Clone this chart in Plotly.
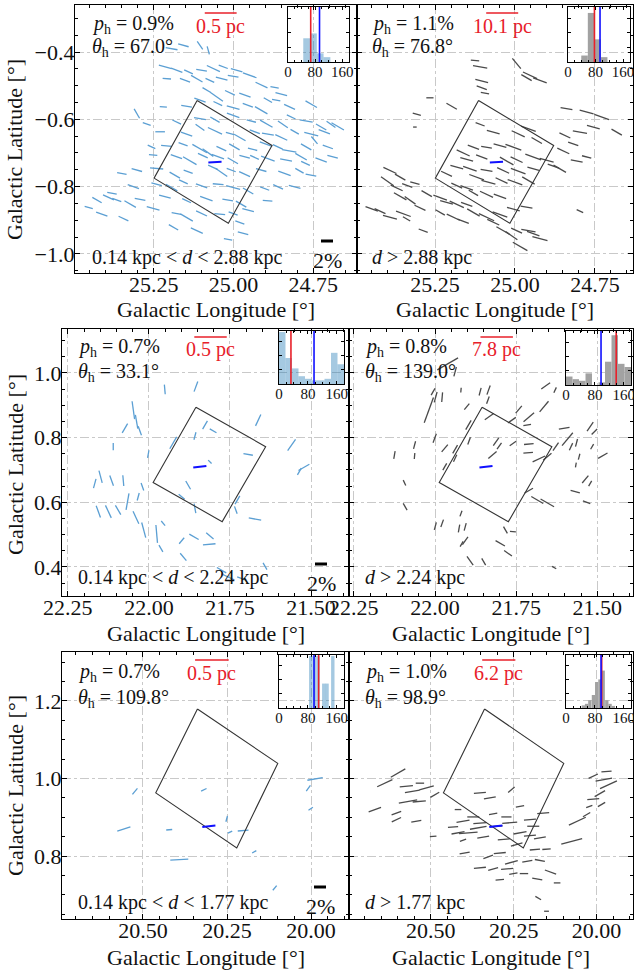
import numpy as np
import plotly.graph_objects as go

# ---------------- data ----------------
p_h = [0.9, 1.1, 0.7, 0.8, 0.7, 1.0]
theta_h = [67.0, 76.8, 33.1, 139.0, 109.8, 98.9]
blue_theta = [93, 93, 97, 97, 97, 97]
blue_p = [2.2, 2.2, 2.2, 2.2, 2.2, 2.2]
blue_l = [25.058, 25.058, 21.843, 21.843, 20.304, 20.304]
blue_b = [-0.727, -0.727, 0.710, 0.710, 0.877, 0.877]
dist_labels = ["0.14 kpc &lt; <i>d</i> &lt; 2.88 kpc", "<i>d</i> &gt; 2.88 kpc",
               "0.14 kpc &lt; <i>d</i> &lt; 2.24 kpc", "<i>d</i> &gt; 2.24 kpc",
               "0.14 kpc &lt; <i>d</i> &lt; 1.77 kpc", "<i>d</i> &gt; 1.77 kpc"]
scale_labels = ["0.5 pc", "10.1 pc", "0.5 pc", "7.8 pc", "0.5 pc", "6.2 pc"]
scale_l0 = [25.09, 25.09, 21.86, 21.86, 20.345, 20.345]
scale_l1 = [24.99, 24.99, 21.76, 21.76, 20.245, 20.245]

box_l = [[25.114, 24.879, 25.016, 25.249], [25.114, 24.879, 25.016, 25.249],
         [21.855, 21.640, 21.774, 21.987], [21.855, 21.640, 21.774, 21.987],
         [20.338, 20.099, 20.221, 20.462], [20.338, 20.099, 20.221, 20.462]]
box_b = [[-0.544, -0.678, -0.909, -0.775], [-0.544, -0.678, -0.909, -0.775],
         [0.894, 0.772, 0.540, 0.661], [0.894, 0.772, 0.540, 0.661],
         [1.179, 1.039, 0.821, 0.963], [1.179, 1.039, 0.821, 0.963]]

# panel 1 (near stars)
p1_l = [25.194, 25.157, 25.105, 25.079, 25.214, 25.178, 25.141, 25.100, 25.063, 25.032,
        24.990, 25.209, 25.152, 25.115, 25.074, 25.037, 25.001, 24.949, 25.084, 25.053,
        25.011, 24.964, 24.912, 24.871, 24.850, 24.892, 25.220, 25.147, 25.105, 25.049,
        25.001, 24.955, 24.913, 24.866, 24.824, 24.756, 25.303, 25.272, 25.178, 25.105,
        25.058, 25.001, 24.944, 24.897, 24.845, 24.819, 24.772, 24.725, 24.694, 24.673,
        25.230, 25.147, 25.105, 25.058, 25.011, 24.980, 24.933, 24.892, 24.850, 24.808,
        24.756, 24.715, 25.257, 25.210, 25.158, 25.106, 25.080, 25.038, 24.997, 24.940,
        24.898, 24.861, 24.825, 24.772, 24.746, 24.704, 25.252, 25.179, 25.137, 25.096,
        25.049, 25.002, 24.965, 24.934, 24.892, 24.835, 24.788, 24.774, 24.725, 24.689,
        25.350, 25.303, 25.241, 25.184, 25.142, 25.064, 25.038, 25.007, 24.965, 24.913,
        24.840, 24.793, 24.757, 25.381, 25.314, 25.241, 25.194, 25.157, 25.100, 25.048,
        25.001, 24.954, 24.902, 24.860, 24.808, 25.454, 25.428, 25.392, 25.366, 25.324,
        25.293, 25.215, 25.147, 25.085, 25.018, 24.976, 24.893, 25.413, 25.345, 25.252,
        25.179, 25.147, 25.100, 25.043, 25.001, 24.954, 25.188, 25.115, 24.980, 24.970,
        25.017]
p1_b = [-0.390, -0.380, -0.380, -0.395, -0.444, -0.454, -0.459, -0.454, -0.449, -0.444,
        -0.454, -0.479, -0.484, -0.479, -0.484, -0.479, -0.472, -0.469, -0.513, -0.533,
        -0.521, -0.528, -0.498, -0.505, -0.525, -0.543, -0.563, -0.561, -0.543, -0.553,
        -0.565, -0.558, -0.573, -0.543, -0.563, -0.555, -0.583, -0.614, -0.608, -0.598,
        -0.601, -0.588, -0.605, -0.613, -0.615, -0.593, -0.605, -0.623, -0.615, -0.621,
        -0.637, -0.644, -0.624, -0.634, -0.642, -0.654, -0.637, -0.644, -0.654, -0.637,
        -0.644, -0.637, -0.682, -0.679, -0.674, -0.687, -0.699, -0.687, -0.682, -0.689,
        -0.674, -0.682, -0.694, -0.682, -0.662, -0.682, -0.706, -0.711, -0.723, -0.708,
        -0.711, -0.723, -0.711, -0.713, -0.717, -0.721, -0.711, -0.731, -0.721, -0.711,
        -0.761, -0.751, -0.746, -0.766, -0.756, -0.743, -0.758, -0.751, -0.763, -0.751,
        -0.761, -0.753, -0.766, -0.820, -0.800, -0.793, -0.803, -0.786, -0.798, -0.793,
        -0.803, -0.813, -0.806, -0.801, -0.801, -0.862, -0.840, -0.832, -0.840, -0.852,
        -0.838, -0.830, -0.842, -0.836, -0.840, -0.852, -0.842, -0.882, -0.895, -0.865,
        -0.880, -0.892, -0.880, -0.882, -0.880, -0.870, -0.921, -0.931, -0.907, -0.939,
        -0.957]
p1_th = [80, 75, 35, 15, 75, 70, 65, 80, 65, 70,
         75, 85, 70, 60, 65, 75, 80, 70, 60, 55,
         65, 70, 65, 80, 75, 60, 85, 80, 70, 65,
         75, 70, 60, 80, 65, 60, 30, 70, 65, 80,
         60, 70, 75, 60, 55, 65, 80, 60, 55, 60,
         90, 70, 55, 65, 75, 60, 70, 80, 65, 60,
         75, 70, 65, 85, 70, 60, 55, 65, 60, 75,
         70, 65, 80, 60, 40, 70, 85, 70, 60, 65,
         70, 60, 75, 65, 70, 80, 60, 65, 70, 75,
         80, 75, 85, 60, 70, 65, 55, 70, 65, 75,
         70, 60, 80, 80, 70, 75, 60, 65, 70, 85,
         75, 60, 70, 65, 75, 75, 60, 65, 70, 60,
         80, 75, 65, 70, 80, 60, 85, 70, 65, 75,
         80, 60, 65, 85, 70, 75, 60, 65, 70, 75,
         80]
p1_p = [2.0, 1.8, 1.6, 1.4, 2.2, 2.0, 1.6, 1.8, 2.4, 1.6,
        2.0, 1.4, 1.8, 2.2, 1.6, 2.0, 1.8, 2.4, 1.6, 2.6,
        1.8, 2.0, 2.2, 1.4, 2.0, 1.6, 1.2, 1.8, 2.0, 1.6,
        2.2, 1.8, 2.4, 1.4, 2.0, 2.2, 1.8, 1.4, 1.6, 2.0,
        1.8, 2.2, 1.6, 2.4, 2.0, 1.6, 2.2, 2.0, 1.8, 2.4,
        1.6, 2.0, 1.8, 2.6, 1.4, 2.2, 1.8, 2.0, 2.2, 1.6,
        2.4, 2.0, 1.4, 1.8, 1.6, 2.8, 2.2, 1.8, 2.0, 1.6,
        2.2, 1.8, 2.4, 2.0, 1.6, 1.8, 1.4, 2.0, 2.6, 1.8,
        2.2, 2.0, 1.8, 1.6, 2.4, 2.0, 2.2, 1.6, 2.0, 1.8,
        1.6, 1.8, 2.2, 2.0, 1.6, 1.8, 2.4, 1.6, 2.0, 1.8,
        2.2, 1.6, 1.8, 1.6, 2.0, 1.8, 2.2, 1.6, 2.0, 1.8,
        2.4, 2.0, 1.6, 1.8, 2.0, 1.4, 1.8, 2.0, 1.6, 2.2,
        1.8, 2.0, 1.6, 2.2, 1.8, 2.0, 1.6, 2.0, 1.8, 2.2,
        1.6, 2.4, 2.0, 1.8, 1.6, 2.0, 1.8, 2.2, 1.6, 1.8,
        1.4]

# panel 2 (far stars)
p2_l = [25.109, 25.125, 24.995, 24.953, 24.922, 24.964, 25.104, 25.104, 25.094, 25.266,
        25.198, 25.307, 25.313, 24.839, 24.776, 24.729, 24.682, 24.755, 24.797, 24.844,
        24.818, 24.776, 24.807, 24.797, 25.109, 25.068, 24.990, 24.958, 24.932, 25.005,
        25.047, 25.089, 25.130, 25.162, 25.151, 25.104, 25.026, 24.995, 24.943, 24.901,
        24.880, 24.849, 24.860, 24.943, 24.990, 25.037, 25.089, 25.141, 25.182, 25.214,
        25.120, 25.083, 25.042, 25.000, 24.958, 25.182, 25.151, 25.130, 25.089, 25.047,
        25.391, 25.359, 25.399, 25.370, 25.337, 25.313, 25.359, 25.328, 25.297, 25.349,
        25.391, 25.448, 25.422, 25.276, 25.234, 25.214, 25.182, 25.151, 25.130, 25.089,
        25.047, 25.005, 24.964, 25.234, 25.193, 25.162, 25.068, 25.037, 25.011, 24.984,
        24.943, 24.922, 24.995, 24.958, 25.287, 25.339]
p2_b = [-0.444, -0.425, -0.434, -0.469, -0.484, -0.476, -0.486, -0.506, -0.522, -0.536,
        -0.561, -0.585, -0.623, -0.568, -0.578, -0.593, -0.638, -0.623, -0.638, -0.648,
        -0.673, -0.712, -0.724, -0.873, -0.615, -0.638, -0.643, -0.628, -0.663, -0.683,
        -0.678, -0.683, -0.683, -0.700, -0.719, -0.712, -0.724, -0.720, -0.712, -0.722,
        -0.739, -0.694, -0.747, -0.747, -0.754, -0.752, -0.752, -0.747, -0.742, -0.762,
        -0.772, -0.787, -0.782, -0.787, -0.782, -0.797, -0.804, -0.819, -0.823, -0.829,
        -0.752, -0.772, -0.784, -0.804, -0.797, -0.790, -0.829, -0.841, -0.863, -0.881,
        -0.891, -0.866, -0.873, -0.821, -0.833, -0.847, -0.853, -0.853, -0.877, -0.891,
        -0.883, -0.867, -0.861, -0.877, -0.891, -0.903, -0.906, -0.931, -0.946, -0.978,
        -0.940, -0.955, -0.931, -0.931, -0.931, -0.896]
p2_th = [80, 85, 40, 65, 70, 60, 75, 70, 80, 90,
         60, 75, 90, 80, 75, 70, 60, 75, 80, 65,
         70, 75, 80, 65, 70, 75, 65, 70, 60, 70,
         75, 80, 70, 65, 75, 70, 60, 65, 70, 75,
         70, 65, 60, 75, 70, 65, 80, 70, 75, 65,
         70, 75, 65, 70, 60, 65, 70, 60, 65, 70,
         65, 60, 55, 65, 70, 75, 60, 55, 65, 70,
         75, 70, 65, 60, 70, 75, 65, 70, 60, 65,
         70, 75, 80, 60, 65, 70, 65, 60, 55, 60,
         70, 75, 65, 80, 70, 60]
p2_p = [2.4, 1.4, 2.2, 2.6, 2.4, 2.0, 2.2, 1.8, 1.4, 1.2,
        2.0, 1.4, 0.6, 2.0, 2.4, 2.6, 2.0, 2.2, 2.4, 2.0,
        1.8, 1.6, 2.0, 1.2, 1.6, 2.2, 2.4, 2.6, 2.0, 2.8,
        2.2, 1.8, 2.0, 2.4, 2.2, 2.0, 2.6, 2.2, 2.8, 2.4,
        2.0, 2.2, 2.4, 2.0, 2.6, 2.2, 2.0, 2.4, 2.2, 2.0,
        2.6, 2.4, 2.2, 2.6, 2.4, 2.0, 2.2, 1.8, 2.4, 2.2,
        2.4, 2.0, 2.6, 2.2, 1.8, 1.6, 2.4, 2.2, 2.0, 2.6,
        2.4, 2.2, 2.0, 2.0, 2.4, 2.2, 2.6, 2.0, 2.4, 2.8,
        2.6, 2.2, 2.0, 1.8, 2.4, 2.0, 2.2, 2.6, 2.4, 2.8,
        2.2, 2.6, 2.0, 2.4, 1.6, 1.4]

# panel 3
p3_l = [21.951, 21.855, 22.048, 22.038, 22.074, 22.028, 22.110, 22.002, 21.925, 21.827,
        21.802, 21.858, 21.663, 21.694, 21.560, 21.522, 21.536, 22.167, 22.149, 22.115,
        22.079, 22.156, 22.125, 22.095, 22.066, 22.033, 22.020, 22.040, 22.016, 21.976,
        21.963, 21.899, 21.894, 21.861, 21.812, 21.814, 21.879, 21.899, 21.858, 21.727,
        21.732, 21.673, 21.776, 21.756, 21.642, 21.714, 21.812, 21.956]
p3_b = [0.949, 0.958, 0.885, 0.849, 0.829, 0.821, 0.772, 0.749, 0.784, 0.839,
        0.821, 0.805, 0.854, 0.748, 0.777, 0.708, 0.695, 0.658, 0.679, 0.667,
        0.667, 0.571, 0.571, 0.576, 0.602, 0.617, 0.648, 0.553, 0.514, 0.502,
        0.457, 0.481, 0.431, 0.493, 0.496, 0.470, 0.653, 0.617, 0.581, 0.607,
        0.576, 0.548, 0.390, 0.369, 0.402, 0.364, 0.725, 0.535]
p3_th = [5, 160, 8, 10, 150, 20, 0, 170, 150, 150,
         60, 165, 155, 80, 145, 120, 150, 165, 15, 20,
         5, 20, 25, 30, 170, 165, 20, 25, 15, 5,
         30, 140, 40, 60, 50, 95, 30, 50, 10, 150,
         20, 80, 60, 65, 30, 70, 45, 40]
p3_p = [1.6, 1.8, 3.0, 2.3, 1.8, 1.6, 1.2, 1.3, 2.3, 1.6,
        1.3, 1.3, 2.1, 1.6, 2.3, 2.1, 1.3, 1.6, 2.1, 1.8,
        1.8, 2.1, 2.3, 1.8, 2.8, 1.3, 1.3, 2.3, 2.6, 3.0,
        1.3, 1.3, 1.6, 1.8, 1.6, 2.1, 1.6, 1.3, 1.6, 1.6,
        1.3, 2.1, 1.8, 2.3, 1.3, 1.6, 0.8, 1.0]

# panel 4
p4_l = [21.961, 21.938, 22.006, 21.998, 21.978, 22.019, 21.920, 21.861, 21.835, 21.837,
        21.902, 21.897, 21.833, 21.763, 21.742, 21.711, 21.659, 21.630, 21.664, 22.001,
        22.063, 22.125, 22.063, 21.970, 21.938, 21.895, 21.812, 21.802, 21.760, 21.711,
        21.713, 21.823, 21.680, 21.654, 21.628, 21.592, 21.581, 21.602, 21.522, 21.509,
        21.564, 21.556, 21.516, 21.483, 21.566, 21.537, 21.522, 21.568, 21.533, 21.711,
        21.685, 21.654, 22.094, 22.092, 21.920, 21.926, 21.907, 21.978, 21.999, 21.907,
        21.918, 21.892, 21.850, 21.799, 21.783, 21.760, 21.775, 21.633, 21.970, 21.938,
        21.716]
p4_b = [1.028, 1.004, 0.942, 0.925, 0.925, 0.885, 0.947, 0.942, 0.947, 0.916,
        0.896, 0.839, 0.865, 0.854, 0.887, 0.863, 0.960, 0.947, 0.896, 0.798,
        0.777, 0.746, 0.743, 0.767, 0.764, 0.790, 0.787, 0.774, 0.782, 0.780,
        0.753, 0.746, 0.734, 0.741, 0.772, 0.795, 0.772, 0.829, 0.834, 0.818,
        0.784, 0.741, 0.772, 0.744, 0.715, 0.671, 0.658, 0.633, 0.600, 0.636,
        0.607, 0.598, 0.660, 0.586, 0.565, 0.519, 0.524, 0.535, 0.526, 0.481,
        0.471, 0.419, 0.416, 0.473, 0.514, 0.509, 0.442, 0.398, 0.710, 0.736,
        0.839]
p4_th = [120, 165, 150, 165, 175, 160, 175, 165, 160, 160,
         140, 150, 125, 125, 140, 130, 125, 155, 140, 160,
         165, 170, 175, 140, 150, 160, 145, 145, 125, 95,
         95, 130, 115, 130, 145, 140, 155, 100, 145, 135,
         165, 165, 150, 120, 170, 140, 150, 75, 70, 120,
         60, 60, 25, 30, 160, 170, 165, 160, 165, 145,
         150, 35, 30, 60, 30, 85, 55, 60, 150, 155,
         100]
p4_p = [4.0, 1.6, 1.3, 1.8, 1.6, 4.5, 0.8, 1.3, 1.6, 1.3,
        1.3, 1.8, 1.8, 1.6, 1.6, 2.3, 1.8, 1.0, 2.3, 1.6,
        1.3, 1.3, 1.0, 1.6, 1.6, 1.3, 1.6, 1.3, 1.3, 1.6,
        1.6, 1.8, 2.3, 1.8, 1.6, 2.8, 1.3, 1.8, 1.8, 1.3,
        1.3, 1.0, 1.0, 1.8, 0.8, 1.6, 1.0, 1.6, 1.3, 1.6,
        2.3, 2.6, 1.0, 1.3, 1.0, 1.3, 1.3, 1.3, 1.3, 1.6,
        1.0, 1.8, 1.3, 1.8, 1.3, 1.0, 1.6, 0.8, 1.3, 1.3,
        1.3]

# panel 5
p5_l = [20.524, 20.557, 20.422, 20.392, 20.319, 20.251, 20.241, 20.202, 20.169, 20.108,
        20.008, 19.988, 20.001]
p5_b = [0.967, 0.870, 0.868, 0.791, 0.971, 0.896, 0.862, 0.866, 0.811, 0.718,
        0.975, 0.999, 0.922]
p5_th = [140, 108, 95, 93, 115, 165, 115, 95, 120, 140, 145, 100, 125]
p5_p = [1.3, 2.3, 1.0, 3.0, 1.0, 1.0, 0.8, 1.8, 0.8, 1.0, 1.2, 2.6, 0.9]

# panel 6
p6_l = [20.599, 20.639, 20.669, 20.574, 20.556, 20.513, 20.488, 20.569, 20.535, 20.604,
        20.604, 20.544, 20.493, 20.418, 20.403, 20.352, 20.322, 20.352, 20.357, 20.302,
        20.272, 20.257, 20.231, 20.201, 20.161, 20.231, 20.201, 20.171, 20.151, 20.075,
        20.058, 20.030, 20.010, 19.978, 19.970, 19.964, 19.990, 20.010, 19.985, 20.022,
        20.418, 20.387, 20.342, 20.280, 20.241, 20.186, 20.398, 20.327, 20.292, 20.257,
        20.209, 20.171, 20.139, 20.352, 20.312, 20.270, 20.251, 20.219, 20.179, 20.119,
        20.292, 20.176, 20.151, 20.372, 20.312, 20.433, 20.403, 20.533, 20.262, 20.191]
p6_b = [1.014, 0.988, 0.920, 0.980, 0.967, 0.976, 0.958, 0.941, 0.941, 0.911,
        0.894, 0.890, 0.851, 0.920, 0.890, 0.963, 0.950, 0.885, 0.873, 0.877,
        0.901, 0.971, 0.928, 0.894, 0.911, 0.860, 0.853, 0.847, 0.818, 0.838,
        0.890, 0.907, 1.006, 0.997, 1.018, 0.984, 0.961, 0.947, 0.933, 0.928,
        0.860, 0.860, 0.849, 0.843, 0.830, 0.817, 0.808, 0.798, 0.808, 0.784,
        0.787, 0.789, 0.759, 0.770, 0.767, 0.767, 0.755, 0.755, 0.741, 0.731,
        0.739, 0.692, 0.658, 0.901, 0.909, 0.875, 0.841, 0.988, 0.886, 0.877]
p6_th = [120, 115, 110, 95, 100, 105, 120, 100, 95, 110,
         115, 100, 95, 90, 100, 95, 100, 95, 100, 95,
         90, 130, 100, 95, 95, 100, 95, 100, 95, 105,
         115, 120, 115, 100, 95, 115, 120, 95, 120, 110,
         100, 95, 100, 95, 105, 95, 100, 110, 95, 105,
         100, 80, 70, 95, 105, 95, 100, 90, 80, 90,
         95, 60, 90, 90, 100, 95, 110, 90, 95, 90]
p6_p = [2.8, 2.8, 2.2, 2.2, 2.5, 2.5, 1.7, 3.1, 2.2, 1.7,
        1.7, 1.7, 1.1, 1.1, 2.2, 2.0, 2.0, 2.2, 2.8, 2.0,
        1.7, 1.4, 1.4, 2.0, 2.0, 2.2, 2.0, 2.0, 1.4, 3.6,
        3.1, 1.4, 1.7, 2.8, 1.7, 3.1, 2.0, 2.0, 1.4, 1.1,
        2.2, 3.1, 2.0, 2.0, 2.0, 1.7, 1.7, 1.7, 2.0, 2.2,
        1.7, 1.7, 2.0, 2.0, 1.7, 2.0, 1.4, 1.4, 1.7, 1.1,
        1.4, 1.1, 0.8, 2.0, 1.4, 1.7, 1.1, 1.4, 2.5, 2.0]

# histograms of angles (bin centres, relative counts, bin width)
h1_c = [55, 75, 95, 115]
h1_h = [0.44, 0.53, 0.16, 0.09]
h2_c = [48, 67, 86, 105]
h2_h = [0.12, 0.91, 0.42, 0.09]
h3_c = [9, 27, 45, 63, 81, 99, 117, 135, 153, 171]
h3_h = [1.0, 0.5, 0.3, 0.15, 0.1, 0.07, 0.07, 0.1, 0.6, 0.38]
h4_c = [9, 27, 45, 63, 81, 99, 117, 135, 153, 171]
h4_h = [0.16, 0.11, 0.08, 0.22, 0.0, 0.05, 0.44, 0.94, 0.40, 0.34]
h5_c = [88, 98, 108, 124, 133, 149]
h5_h = [1.0, 1.0, 1.0, 0.47, 0.47, 1.0]
h6_c = [48, 57, 66, 76, 85, 94, 103, 113, 122, 131]
h6_h = [0.05, 0.08, 0.15, 0.25, 0.5, 0.55, 0.72, 0.15, 0.08, 0.04]
hist_w = [20, 19, 18, 18, 9.5, 9.2]

# ---------------- layout geometry (pixels) ----------------
W, H = 634, 971
PX_PER_PCT = 6.0
FONT = "Liberation Serif"
F_TICK = 22
F_TEXT = 20
F_INSET = 15

def fx(px):
    return px / W

def fy(py):
    return 1 - py / H

panel_px = [(75, 357, 5, 273), (357, 633, 5, 273),
            (62, 349, 329, 596), (349, 633, 329, 596),
            (62, 349, 652, 919), (349, 633, 652, 919)]
inset_px = [(288, 349, 7, 62), (568, 630, 7, 62),
            (279, 344, 331, 384), (566, 631, 331, 385),
            (279, 344, 655, 708), (566, 631, 655, 708)]
xranges = [[25.497, 24.6125], [25.494, 24.631],
           [22.268, 21.383], [22.265, 21.39],
           [20.741, 19.887], [20.747, 19.89]]
yranges = [[-1.057, -0.26], [-1.057, -0.26],
           [0.31, 1.136], [0.31, 1.136],
           [0.638, 1.326], [0.638, 1.326]]

panels = [(p1_l, p1_b, p1_p, p1_th), (p2_l, p2_b, p2_p, p2_th),
          (p3_l, p3_b, p3_p, p3_th), (p4_l, p4_b, p4_p, p4_th),
          (p5_l, p5_b, p5_p, p5_th), (p6_l, p6_b, p6_p, p6_th)]
hists = [(h1_c, h1_h), (h2_c, h2_h), (h3_c, h3_h), (h4_c, h4_h), (h5_c, h5_h), (h6_c, h6_h)]

SEG_BLUE = "#5b9fd3"
SEG_GREY = "#4a4a4a"
BAR_BLUE = "rgba(31,119,180,0.4)"
BAR_GREY = "#a2a2a2"


def segments(l, b, p, th, kx, ky):
    xs, ys = [], []
    for li, bi, pi, ti in zip(l, b, p, th):
        half = pi * PX_PER_PCT / 2.0
        t = np.deg2rad(ti)
        dl = np.sin(t) * half / kx
        db = np.cos(t) * half / ky
        xs += [li - dl, li + dl, None]
        ys += [bi - db, bi + db, None]
    return xs, ys


fig = go.Figure()
layout = {}
shapes = []
annotations = []
tickfont = dict(family=FONT, size=F_TICK, color="#111")

for i in range(6):
    n = i + 1
    sx = "" if n == 1 else str(n)
    x0, x1, yt, yb = panel_px[i]
    kx = (x1 - x0) / abs(xranges[i][1] - xranges[i][0])
    ky = (yb - yt) / abs(yranges[i][1] - yranges[i][0])
    l, b, p, th = panels[i]
    col = SEG_BLUE if i % 2 == 0 else SEG_GREY
    xs, ys = segments(l, b, p, th, kx, ky)
    fig.add_trace(go.Scatter(x=xs, y=ys, mode="lines", line=dict(color=col, width=1.3),
                             xaxis="x" + sx, yaxis="y" + sx, hoverinfo="skip", showlegend=False))
    # box
    fig.add_trace(go.Scatter(x=box_l[i] + [box_l[i][0]], y=box_b[i] + [box_b[i][0]], mode="lines",
                             line=dict(color="#333333", width=1.1),
                             xaxis="x" + sx, yaxis="y" + sx, hoverinfo="skip", showlegend=False))
    # blue mean vector
    bx, by = segments([blue_l[i]], [blue_b[i]], [blue_p[i]], [blue_theta[i]], kx, ky)
    fig.add_trace(go.Scatter(x=bx, y=by, mode="lines", line=dict(color="#1010ff", width=2),
                             xaxis="x" + sx, yaxis="y" + sx, hoverinfo="skip", showlegend=False))

    common = dict(showline=True, linecolor="black", linewidth=1.3, mirror="ticks",
                  ticks="inside", ticklen=5, tickwidth=1, tickcolor="black",
                  showgrid=True, gridcolor="#c9c9c9", griddash="dashdot", gridwidth=0.9,
                  zeroline=False, tickfont=tickfont, automargin=False, ticklabeloverflow="allow")
    layout["xaxis" + sx] = dict(common, domain=[fx(x0), fx(x1)], range=xranges[i],
                                anchor="y" + sx, tickmode="linear", tick0=0, dtick=0.25,
                                tickformat=".2f", ticklabelstandoff=-9,
                                minor=dict(ticks="inside", ticklen=2.5, tickwidth=0.8,
                                           tickcolor="black", dtick=0.05, tick0=0, showgrid=False))
    layout["yaxis" + sx] = dict(common, domain=[fy(yb), fy(yt)], range=yranges[i],
                                anchor="x" + sx, tickmode="linear", tick0=0, dtick=0.2,
                                tickformat=".1f", showticklabels=(i % 2 == 0), ticklabelstandoff=-5,
                                minor=dict(ticks="inside", ticklen=2.5, tickwidth=0.8,
                                           tickcolor="black", dtick=0.05, tick0=0, showgrid=False))

    # inset histogram
    m = n + 6
    ix0, ix1, iyt, iyb = inset_px[i]
    hc, hh = hists[i]
    fig.add_trace(go.Bar(x=hc, y=hh, width=hist_w[i], marker=dict(color=BAR_BLUE if i % 2 == 0 else BAR_GREY,
                         line=dict(width=0)), xaxis=f"x{m}", yaxis=f"y{m}", hoverinfo="skip", showlegend=False))
    fig.add_trace(go.Scatter(x=[theta_h[i], theta_h[i]], y=[0, 1.02], mode="lines",
                             line=dict(color="#e8202a", width=1.6), xaxis=f"x{m}", yaxis=f"y{m}",
                             hoverinfo="skip", showlegend=False))
    fig.add_trace(go.Scatter(x=[blue_theta[i], blue_theta[i]], y=[0, 1.02], mode="lines",
                             line=dict(color="#1010ff", width=1.6), xaxis=f"x{m}", yaxis=f"y{m}",
                             hoverinfo="skip", showlegend=False))
    icommon = dict(showline=True, linecolor="black", linewidth=1.2, mirror="ticks",
                   ticks="inside", ticklen=3, tickwidth=0.9, tickcolor="black",
                   showgrid=False, zeroline=False, automargin=False, ticklabeloverflow="allow")
    layout[f"xaxis{m}"] = dict(icommon, domain=[fx(ix0), fx(ix1)], range=[0, 180], anchor=f"y{m}",
                               tickmode="array", tickvals=[0, 80, 160], ticklabelstandoff=-4,
                               tickfont=dict(family=FONT, size=F_INSET, color="#111"),
                               minor=dict(ticks="inside", ticklen=1.8, tickwidth=0.7, tickcolor="black",
                                          dtick=20, tick0=0, showgrid=False))
    layout[f"yaxis{m}"] = dict(icommon, domain=[fy(iyb), fy(iyt)], range=[0, 1.02], anchor=f"x{m}",
                               tickmode="linear", tick0=0, dtick=0.27, showticklabels=False)

    # texts
    tx = x0 + (15 if i == 0 else 13 if i == 1 else 14)
    row = i // 2
    ty_p = [24, 347, 672][row]
    ty_t = [47, 372, 698][row]
    ty_d = [257, 577, 902][row]
    tfont = dict(family=FONT, size=F_TEXT, color="#111")
    annotations.append(dict(x=fx(tx), y=fy(ty_p), xref="paper", yref="paper", xanchor="left", yanchor="middle",
                            text=f"<i>p</i><sub>h</sub> = {p_h[i]:.1f}%", showarrow=False, font=tfont))
    annotations.append(dict(x=fx(tx), y=fy(ty_t), xref="paper", yref="paper", xanchor="left", yanchor="middle",
                            text=f"<i>θ</i><sub>h</sub> = {theta_h[i]:.1f}°", showarrow=False, font=tfont))
    annotations.append(dict(x=fx(tx), y=fy(ty_d), xref="paper", yref="paper", xanchor="left", yanchor="middle",
                            text=dist_labels[i], showarrow=False, font=tfont))
    # red physical scale bar
    ry = [13, 337, 660][row]
    shapes.append(dict(type="line", xref="x" + sx, yref="paper", x0=scale_l0[i], x1=scale_l1[i],
                       y0=fy(ry), y1=fy(ry), line=dict(color="#e8202a", width=1.6)))
    annotations.append(dict(x=(scale_l0[i] + scale_l1[i]) / 2, y=fy(ry + 13), xref="x" + sx, yref="paper",
                            xanchor="center", yanchor="middle", text=scale_labels[i], showarrow=False,
                            font=dict(family=FONT, size=F_TEXT, color="#e8202a")))
    # x axis title
    annotations.append(dict(x=fx((x0 + x1) / 2), y=fy([310, 633, 957][row]), xref="paper", yref="paper",
                            xanchor="center", yanchor="middle", text="Galactic Longitude [°]",
                            showarrow=False, font=dict(family=FONT, size=F_TICK, color="#111")))
    if i % 2 == 0:
        annotations.append(dict(x=fx(15), y=fy([150, 465, 786][row]), xref="paper", yref="paper",
                                xanchor="center", yanchor="middle", text="Galactic Latitude [°]", textangle=-90,
                                showarrow=False, font=dict(family=FONT, size=F_TICK, color="#111")))
        # 2% reference bar
        bx0 = [321, 315, 314][row]
        bpy = [241, 564, 887][row]
        shapes.append(dict(type="line", xref="paper", yref="paper", x0=fx(bx0), x1=fx(bx0 + 2 * PX_PER_PCT),
                           y0=fy(bpy), y1=fy(bpy), line=dict(color="black", width=3)))
        annotations.append(dict(x=fx(bx0 + PX_PER_PCT), y=fy(bpy + 19), xref="paper", yref="paper",
                                xanchor="center", yanchor="middle", text="2%", showarrow=False,
                                font=dict(family=FONT, size=F_TICK, color="#111")))

fig.update_layout(width=W, height=H, autosize=False,
                  margin=dict(l=0, r=0, t=0, b=0, pad=0, autoexpand=False),
                  paper_bgcolor="white", plot_bgcolor="rgba(0,0,0,0)",
                  barmode="overlay", showlegend=False,
                  shapes=shapes, annotations=annotations, **layout)

fig.write_html("out.html")
